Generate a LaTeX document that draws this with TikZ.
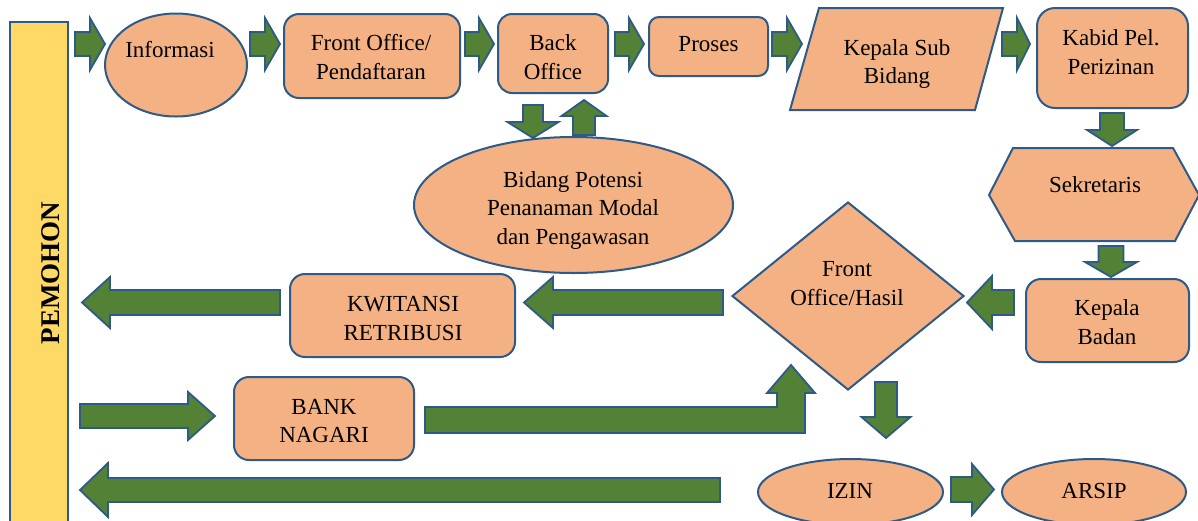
\documentclass[tikz,border=0pt]{standalone}
\usepackage{fontspec}
\setmainfont{Liberation Serif}
\usetikzlibrary{shapes.geometric}
\definecolor{boxfill}{HTML}{F4B183}
\definecolor{edgeblue}{HTML}{2E5A88}
\definecolor{arrowgreen}{HTML}{538135}
\definecolor{barfill}{HTML}{FFD966}
\newcommand\ArrR[6]{\draw[blockarrow] (#1,#3-#4) -- (#2-#6,#3-#4) -- (#2-#6,#3-#5) -- (#2,#3) -- (#2-#6,#3+#5) -- (#2-#6,#3+#4) -- (#1,#3+#4) -- cycle;}
\newcommand\ArrL[6]{\draw[blockarrow] (#1,#3) -- (#1+#6,#3-#5) -- (#1+#6,#3-#4) -- (#2,#3-#4) -- (#2,#3+#4) -- (#1+#6,#3+#4) -- (#1+#6,#3+#5) -- cycle;}
\newcommand\ArrD[6]{\draw[blockarrow] (#1-#4,#2) -- (#1+#4,#2) -- (#1+#4,#3-#6) -- (#1+#5,#3-#6) -- (#1,#3) -- (#1-#5,#3-#6) -- (#1-#4,#3-#6) -- cycle;}
\newcommand\ArrU[6]{\draw[blockarrow] (#1-#4,#2) -- (#1+#4,#2) -- (#1+#4,#3+#6) -- (#1+#5,#3+#6) -- (#1,#3) -- (#1-#5,#3+#6) -- (#1-#4,#3+#6) -- cycle;}
\tikzset{
  shapebase/.style={draw=edgeblue, line width=2pt, fill=boxfill, inner sep=0pt},
  box/.style={shapebase, rectangle, rounded corners=15pt},
  oval/.style={shapebase, ellipse},
  txt/.style={font=\fontsize{23}{28.5}\selectfont, align=center, inner sep=0pt},
  blockarrow/.style={draw=edgeblue, line width=1.8pt, fill=arrowgreen, line join=miter},
}
\begin{document}
\begin{tikzpicture}[x=1pt, y=-1pt]
\useasboundingbox (0,0) rectangle (1198,520);
\clip (0,0) rectangle (1198,520);
\fill[white] (0,0) rectangle (1198,520);

% PEMOHON bar
\draw[draw=edgeblue, line width=2pt, fill=barfill] (10,22) rectangle (68,540);
\node[coordinate] (pem) at (39,273) {};
\begin{scope}
\clip (41,0) rectangle (67,520);
\node[font=\bfseries\fontsize{27}{30}\selectfont, rotate=90, anchor=base, inner sep=0pt] (pemT) at (59,273) {PEMOHON};
\end{scope}

% top row
\node[oval, minimum width=142pt, minimum height=103pt] (info) at (176,65) {};
\node[txt] (infoT) at (170,49.5) {Informasi};
\node[box, minimum width=176pt, minimum height=84pt] (fo) at (372,56) {};
\node[txt] (foT) at (371,57) {Front Office/\\Pendaftaran};
\node[box, rounded corners=14pt, minimum width=110pt, minimum height=79pt] (bo) at (553,53.5) {};
\node[txt] (boT) at (553,57) {Back\\Office};
\node[box, rounded corners=10pt, minimum width=119pt, minimum height=59pt] (pr) at (708.5,46.5) {};
\node[txt] (prT) at (708.5,44.5) {Proses};
\draw[shapebase] (819,8) -- (1003,8) -- (975,110) -- (790,110) -- cycle;
\node[coordinate] (ksb) at (896,59) {};
\node[txt] (ksbT) at (897,64) {Kepala Sub\\Bidang};
\node[box, rounded corners=18pt, minimum width=151pt, minimum height=100pt] (kab) at (1112.5,58) {};
\node[txt] (kabT) at (1111,52) {Kabid Pel.\\Perizinan};

% right column
\draw[shapebase] (989,195) -- (1013,148) -- (1173,148) -- (1199,195) -- (1175,241) -- (1015,241) -- cycle;
\node[coordinate] (sek) at (1094,195) {};
\node[txt] (sekT) at (1095,184.5) {Sekretaris};
\node[box, minimum width=163pt, minimum height=83pt] (kb) at (1107.5,320.5) {};
\node[txt] (kbT) at (1107,322) {Kepala\\Badan};

% middle
\node[oval, minimum width=319pt, minimum height=136pt] (bp) at (573.5,205) {};
\node[txt] (bpT) at (573,210) {Bidang Potensi\\Penanaman Modal\\dan Pengawasan};
\node[shapebase, diamond, minimum width=232pt, minimum height=188pt] (foh) at (848,296) {};
\node[txt] (fohT) at (847,283.5) {Front\\Office/Hasil};
\node[box, minimum width=225pt, minimum height=83pt] (kw) at (402.5,315.5) {};
\node[txt] (kwT) at (403,318.5) {KWITANSI\\RETRIBUSI};
\node[box, minimum width=180pt, minimum height=83pt] (bank) at (324,418.5) {};
\node[txt] (bankT) at (324,421) {BANK\\NAGARI};
\node[oval, minimum width=185pt, minimum height=66pt] (izin) at (850.5,492) {};
\node[txt] (izinT) at (850,490.5) {IZIN};
\node[oval, minimum width=184pt, minimum height=66pt] (arsip) at (1094,492) {};
\node[txt] (arsipT) at (1094,490.5) {ARSIP};

% block arrows, top row
\ArrR{75}{105}{44}{12}{26}{15}
\ArrR{250}{280}{44}{12}{26}{15}
\ArrR{465}{494}{44}{12}{26}{15}
\ArrR{615}{644}{44}{12}{26}{15}
\ArrR{772}{802}{44}{12}{26}{15}
\ArrR{1002}{1030}{44}{12}{26}{13}
% back office <-> bidang
\ArrD{533}{105}{138}{10}{25.5}{16}
\ArrU{584}{135}{100}{11}{22.5}{16}
% right column
\ArrD{1112}{113}{146}{12}{25}{16}
\ArrD{1111}{246}{277}{12.5}{26}{15}
\ArrL{967}{1014}{302.5}{12.5}{26.5}{25}
\ArrL{524}{723}{302.5}{12.5}{25.5}{29}
\ArrL{82}{280}{302.5}{12.5}{25.5}{28}
% bottom
\ArrR{80}{215}{416}{12}{24}{27}
\draw[blockarrow] (425,407) -- (777,407) -- (777,393) -- (767,393) -- (791,365) -- (815,393) -- (805,393) -- (805,433) -- (425,433) -- cycle;
\ArrD{886}{382}{438}{11}{24.5}{21}
\ArrR{951}{994}{489.5}{12.5}{25.5}{22}
\ArrL{80}{720}{490}{12}{27}{28}
\end{tikzpicture}
\end{document}
